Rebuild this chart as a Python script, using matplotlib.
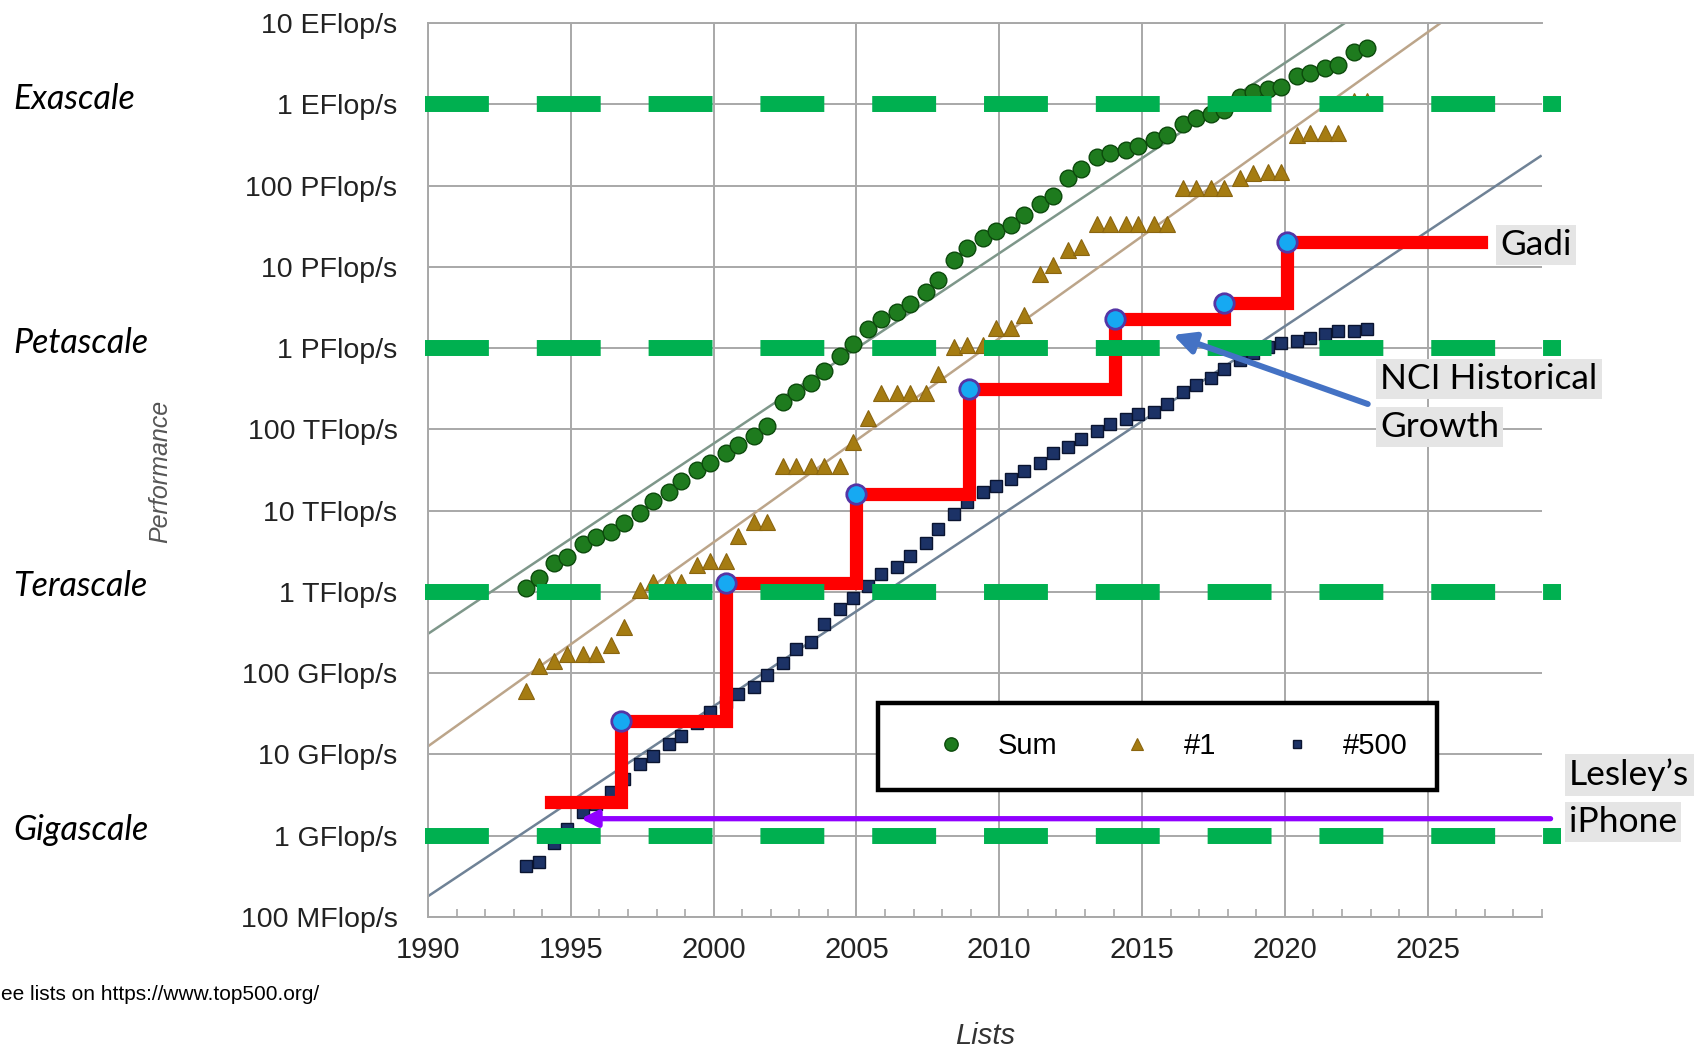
import numpy as np
import matplotlib.pyplot as plt
from matplotlib.ticker import NullLocator
from matplotlib.transforms import blended_transform_factory

# TOP500 lists, June and November of each year
list_dates = [y + m for y in range(1993, 2023) for m in (0.42, 0.87)]

# performance in Flop/s (one value per list)
sum_perf = [1.13e12, 1.5e12, 2.3e12, 2.7e12, 3.9e12, 4.7e12, 5.5e12, 7.0e12,
            9.4e12, 13e12, 17e12, 23e12, 32e12, 39e12, 51e12, 64e12,
            83e12, 110e12, 220e12, 290e12, 370e12, 520e12, 810e12, 1.13e15,
            1.7e15, 2.3e15, 2.8e15, 3.5e15, 4.9e15, 6.97e15, 12e15, 17e15,
            22.6e15, 27.9e15, 32.4e15, 44e15, 58.9e15, 74e15, 123e15, 162e15,
            223e15, 250e15, 274e15, 309e15, 363e15, 420e15, 567e15, 672e15,
            749e15, 845e15, 1.22e18, 1.41e18, 1.56e18, 1.65e18, 2.22e18, 2.43e18,
            2.79e18, 3.04e18, 4.4e18, 4.86e18]
no1_perf = [59.7e9, 124e9, 143e9, 170e9, 170e9, 170e9, 220e9, 368e9,
            1.068e12, 1.338e12, 1.338e12, 1.338e12, 2.121e12, 2.379e12, 2.379e12, 4.938e12,
            7.226e12, 7.226e12, 35.86e12, 35.86e12, 35.86e12, 35.86e12, 35.86e12, 70.72e12,
            136.8e12, 280.6e12, 280.6e12, 280.6e12, 280.6e12, 478.2e12, 1.026e15, 1.105e15,
            1.105e15, 1.759e15, 1.759e15, 2.566e15, 8.162e15, 10.51e15, 16.32e15, 17.59e15,
            33.86e15, 33.86e15, 33.86e15, 33.86e15, 33.86e15, 33.86e15, 93.01e15, 93.01e15,
            93.01e15, 93.01e15, 122.3e15, 143.5e15, 148.6e15, 148.6e15, 415.5e15, 442e15,
            442e15, 442e15, 1.102e18, 1.102e18]
no500_perf = [0.422e9, 0.472e9, 0.822e9, 1.2e9, 1.96e9, 2.49e9, 3.5e9, 5.0e9,
              7.67e9, 9.5e9, 13.4e9, 17.1e9, 24.7e9, 33.1e9, 43.8e9, 55.1e9,
              67.8e9, 94.3e9, 134e9, 196e9, 245e9, 403e9, 624e9, 851e9,
              1.17e12, 1.65e12, 2.03e12, 2.74e12, 4.0e12, 5.9e12, 9.0e12, 12.6e12,
              17.1e12, 20.1e12, 24.7e12, 31.1e12, 39.1e12, 51.2e12, 60.8e12, 76.5e12,
              96.6e12, 117.8e12, 133.7e12, 153.4e12, 164.7e12, 206.4e12, 286e12, 349e12,
              432e12, 548e12, 716e12, 874.8e12, 1.022e15, 1.142e15, 1.228e15, 1.317e15,
              1.511e15, 1.646e15, 1.646e15, 1.73e15]

# trend lines (end points)
sum_trend = ([1990, 2022.1], [3.05e11, 1e19])
no1_trend = ([1990, 2025.45], [1.26e10, 1e19])
no500_trend = ([1990, 2028.95], [1.8e8, 2.3e17])

# NCI historical growth (steps)
nci_years = [1994.3, 1996.75, 2000.45, 2004.98, 2008.94, 2014.04, 2017.85, 2020.08, 2026.85]
nci_perf = [2.6e9, 2.6e10, 1.3e12, 1.6e13, 3.1e14, 2.3e15, 3.6e15, 2.0e16, 2.0e16]

scale_levels = [1e9, 1e12, 1e15, 1e18]
scale_names = ["Gigascale", "Terascale", "Petascale", "Exascale"]

ytick_vals = [1e8, 1e9, 1e10, 1e11, 1e12, 1e13, 1e14, 1e15, 1e16, 1e17, 1e18, 1e19]
ytick_labels = ["100 MFlop/s", "1 GFlop/s", "10 GFlop/s", "100 GFlop/s",
                "1 TFlop/s", "10 TFlop/s", "100 TFlop/s", "1 PFlop/s",
                "10 PFlop/s", "100 PFlop/s", "1 EFlop/s", "10 EFlop/s"]
xtick_vals = [1990, 1995, 2000, 2005, 2010, 2015, 2020, 2025]

iphone_perf = 1.62e9

W, H = 1697, 1049
fig = plt.figure(figsize=(W / 100, H / 100), dpi=100)
ax = fig.add_axes([428 / W, 1 - 917 / H, (1542 - 428) / W, (917 - 23) / H])
ax.set_yscale('log')
ax.set_xlim(1990, 2029)
ax.set_ylim(1e8, 1e19)

grid_c = '#A8A8A8'
ax.set_yticks(ytick_vals)
ax.set_yticklabels(ytick_labels, family='Liberation Sans', fontsize=20.5, color='#222222')
ax.yaxis.set_minor_locator(NullLocator())
ax.set_xticks(xtick_vals)
ax.set_xticklabels([str(v) for v in xtick_vals], family='Liberation Sans', fontsize=21, color='#222222')
ax.set_xticks(range(1990, 2030), minor=True)
ax.tick_params(axis='y', which='major', length=0, pad=22)
ax.tick_params(axis='x', which='major', length=0, pad=14)
ax.tick_params(axis='x', which='minor', direction='in', length=6, width=1.2, color=grid_c)
ax.grid(True, which='major', color=grid_c, lw=1.4)
ax.set_axisbelow(True)
for s in ['left', 'bottom', 'top']:
    ax.spines[s].set_color(grid_c)
    ax.spines[s].set_linewidth(1.4)
ax.spines['right'].set_visible(False)

ax.set_ylabel("Performance", family='Liberation Sans', style='italic', fontsize=18, color='#555555')
ax.yaxis.set_label_coords((172 - 428) / (1542 - 428), (917 - 471) / (917 - 23))
fig.text(985 / W, 1 - 1036 / H, "Lists", family='Liberation Sans', style='italic',
         fontsize=21, color='#333333', ha='center', va='center')

# trend lines
ax.plot(*sum_trend, color='#7E978A', lw=1.8, zorder=2)
ax.plot(*no1_trend, color='#BCA58A', lw=1.8, zorder=2)
ax.plot(*no500_trend, color='#6F8296', lw=1.8, zorder=2)

# data series
ax.plot(list_dates, sum_perf, 'o', ms=12, mfc='#1E7B1E', mec='#0C4A0C', mew=1, zorder=3, label='Sum')
ax.plot(list_dates, no1_perf, '^', ms=11, mfc='#A57C12', mec='#8A6510', mew=0.8, zorder=3, label='#1')
ax.plot(list_dates, no500_perf, 's', ms=8, mfc='#1C3266', mec='#0A1430', mew=1, zorder=3, label='#500')

leg = ax.legend(loc='center', bbox_to_anchor=((1157.5 - 428) / 1114, (917 - 746.5) / 894),
                ncol=3, prop={'family': 'Liberation Sans', 'size': 21}, frameon=True,
                fancybox=False, edgecolor='black', framealpha=1, borderpad=1.0,
                columnspacing=1.25, handletextpad=0.1, handlelength=3.0, markerscale=0.8)
leg.get_frame().set_linewidth(3.2)
leg.set_zorder(4)

# NCI historical growth
ax.plot(nci_years, nci_perf, drawstyle='steps-post', color='#FF0000', lw=9.5,
        solid_joinstyle='miter', zorder=5)

# scale levels, dashed green
for lvl in scale_levels:
    ax.plot([1989.9, 2029.65], [lvl, lvl], color='#00B050', lw=11.5, dashes=(4, 3),
            dash_capstyle='butt', clip_on=False, zorder=6)

ax.plot(nci_years[1:-1], nci_perf[1:-1], 'o', ms=14, mfc='#16A9F2', mec='#5535A5', mew=2, zorder=7)

# arrows
ax.annotate('', xy=(2016.08, 1.45e15), xytext=(2022.9, 2.05e14),
            arrowprops=dict(arrowstyle='-|>', color='#4472C4', lw=4.3, mutation_scale=32,
                            shrinkA=0, shrinkB=0), zorder=8)
ax.annotate('', xy=(1995.35, iphone_perf), xytext=(2029.3, iphone_perf), annotation_clip=False,
            arrowprops=dict(arrowstyle='-|>', color='#9000FF', lw=3.8, mutation_scale=24,
                            shrinkA=0, shrinkB=0), zorder=8)

# scale names on the left
tr = blended_transform_factory(fig.transFigure, ax.transData)
for name, lvl in zip(scale_names, scale_levels):
    fig.text(13 / W, lvl * 1.17, name, transform=tr, family='Lato', style='italic',
             fontsize=24.5, color='black', va='center', ha='left')

box = dict(facecolor='#E5E5E5', edgecolor='none', pad=3)
notes = [("Gadi", 1500, 245), ("NCI Historical", 1380, 379), ("Growth", 1380, 427),
         ("Lesley\u2019s", 1569, 775), ("iPhone", 1569, 822)]
for txt, px, py in notes:
    fig.text(px / W, 1 - py / H, txt, family='Lato', fontsize=25.5, color='black',
             va='center', ha='left', bbox=box, zorder=9)

# footnote, its first letter is off the slide edge
fig.text(1 / W, 1 - 994 / H, "ee lists on https://www.top500.org/", family='Liberation Sans',
         fontsize=15, color='black', va='center', ha='left')

fig.savefig('out.png', dpi=100)
